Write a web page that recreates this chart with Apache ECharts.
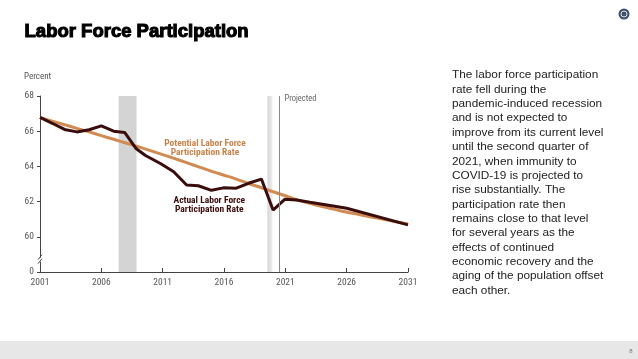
<!DOCTYPE html>
<html>
<head>
<meta charset="utf-8">
<script src="https://cdn.jsdelivr.net/npm/echarts@6/dist/echarts.min.js"></script>
<style>
html,body{margin:0;padding:0;background:#fff;}
#c{width:638px;height:359px;}
</style>
</head>
<body>
<div id="c"></div>
<script>
// ---- data ----
const xTicks = [2001, 2006, 2011, 2016, 2021, 2026, 2031];
const yTicks = [58, 60, 62, 64, 66, 68]; // 58 shown as "0" (broken axis)
const actualYears = [2001, 2002, 2003, 2004, 2005, 2006, 2007, 2007.9, 2008.85, 2009.6, 2010.85, 2011.9, 2012.95, 2013.9, 2014.98, 2015.95, 2017.0, 2018.0, 2019.05, 2020.0, 2020.95, 2021.9, 2023.0, 2024.9, 2026.0, 2031];
const actualRate = [66.78, 66.45, 66.1, 65.96, 66.08, 66.3, 66.0, 65.93, 65.0, 64.62, 64.15, 63.7, 62.94, 62.9, 62.64, 62.78, 62.76, 63.04, 63.28, 61.52, 62.13, 62.09, 61.96, 61.75, 61.62, 60.68];
const potentialYears = [2001,2002,2003,2004,2005,2006,2007,2008,2009,2010,2011,2012,2013,2014,2015,2016,2017,2018,2019,2020,2021,2022,2023,2024,2025,2026,2027,2028,2029,2030,2031];
const potentialRate = [66.78,66.57,66.37,66.16,65.96,65.75,65.54,65.33,65.12,64.9,64.67,64.44,64.2,63.96,63.72,63.5,63.28,63.03,62.8,62.56,62.33,62.1,61.9,61.72,61.56,61.4,61.27,61.13,61.0,60.86,60.73];
const recessions = [[2007.41, 2008.87], [2019.54, 2019.95]];
const projectedStart = 2020.52;
const titleText = 'Labor Force Participation';
const bodyText = 'The labor force participation\nrate fell during the\npandemic-induced recession\nand is not expected to\nimprove from its current level\nuntil the second quarter of\n2021, when immunity to\nCOVID-19 is projected to\nrise substantially. The\nparticipation rate then\nremains close to that level\nfor several years as the\neffects of continued\neconomic recovery and the\naging of the population offset\neach other.';

const narrow = '"Liberation Sans Narrow", "Roboto Condensed", "Arial Narrow", Roboto, sans-serif';
const chart = echarts.init(document.getElementById('c'), null, {renderer: 'canvas'});

const actualData = actualYears.map((y, i) => [y, actualRate[i]]);
const potentialData = potentialYears.map((y, i) => [y, potentialRate[i]]);

chart.setOption({
  animation: false,
  backgroundColor: '#ffffff',
  grid: {left: 40, right: 230, top: 96, bottom: 87, containLabel: false},
  xAxis: {
    type: 'value', min: 2001, max: 2031, interval: 5,
    axisLine: {show: true, lineStyle: {color: '#444', width: 1}},
    axisTick: {show: true, inside: true, length: 4, lineStyle: {color: '#444'}},
    axisLabel: {color: '#555', fontSize: 9.5, fontFamily: narrow, margin: 6, formatter: v => String(v)},
    splitLine: {show: false}
  },
  yAxis: {
    type: 'value', min: 58, max: 68, interval: 2,
    axisLine: {show: true, lineStyle: {color: '#444', width: 1}},
    axisTick: {show: true, length: 3, lineStyle: {color: '#444'}},
    axisLabel: {color: '#555', fontSize: 9.5, fontFamily: narrow, margin: 6, formatter: v => v === 58 ? '0' : String(v)},
    splitLine: {show: false},
    name: 'Percent', nameLocation: 'end', nameGap: 15,
    nameTextStyle: {color: '#555', fontSize: 9, fontFamily: narrow, align: 'left', padding: [0,0,0,-16]}
  },
  series: [
    {
      type: 'line', name: 'Potential', data: potentialData, showSymbol: false, smooth: 0.3,
      lineStyle: {color: '#d08a52', width: 3}, z: 3,
      markArea: {
        silent: true,
        itemStyle: {color: '#d4d4d4'},
        data: [
          [{xAxis: recessions[0][0]}, {xAxis: recessions[0][1]}],
          [{xAxis: recessions[1][0], itemStyle: {color: {type: 'linear', x: 0, y: 0, x2: 1, y2: 0, colorStops: [{offset: 0, color: '#d6d6d6'}, {offset: 1, color: '#eeeeee'}]}}}, {xAxis: recessions[1][1]}]
        ]
      },
      markLine: {
        silent: true, symbol: ['none', 'none'],
        lineStyle: {color: '#8a8a8a', width: 1, type: 'solid'},
        label: {show: false},
        data: [{xAxis: projectedStart}]
      }
    },
    {
      type: 'line', name: 'Actual', data: actualData, showSymbol: false,
      lineStyle: {color: '#3a0c0c', width: 3}, z: 4
    }
  ]
});

function px(p) { return chart.convertToPixel({gridIndex: 0}, p); }
const potLbl = px([2014.45, 65.05]);
const actLbl = px([2014.8, 61.8]);
const projLbl = px([projectedStart, 68]);
const brk = px([2001, 58.7]);

chart.setOption({
  graphic: [
    {type: 'text', left: 24, top: 22, style: {text: titleText, font: '900 18.5px "Liberation Sans", Arial, sans-serif', fill: '#000', stroke: '#000', lineWidth: 1.1}},
    {type: 'text', x: 452, y: 68, style: {text: bodyText, font: '11.8px "Liberation Sans", Arial, sans-serif', fill: '#222', lineHeight: 14.35}},
    {type: 'text', x: potLbl[0], y: potLbl[1], style: {text: 'Potential Labor Force\nParticipation Rate', font: 'bold 9.5px ' + narrow, fill: '#c8834a', align: 'center', verticalAlign: 'middle', lineHeight: 9.5}},
    {type: 'text', x: actLbl[0], y: actLbl[1], style: {text: 'Actual Labor Force\nParticipation Rate', font: 'bold 9.5px ' + narrow, fill: '#3a0c0c', align: 'center', verticalAlign: 'middle', lineHeight: 9.5}},
    {type: 'text', x: projLbl[0] + 5, y: projLbl[1] + 3, style: {text: 'Projected', font: '8.5px ' + narrow, fill: '#666', verticalAlign: 'middle'}},
    // axis break marker
    {type: 'rect', shape: {x: brk[0] - 1.5, y: brk[1] - 2, width: 3, height: 4}, style: {fill: '#fff'}, z: 10},
    {type: 'line', shape: {x1: brk[0] - 2, y1: brk[1], x2: brk[0] + 2, y2: brk[1] - 5}, style: {stroke: '#444', lineWidth: 1}, z: 11},
    {type: 'line', shape: {x1: brk[0] - 2, y1: brk[1] + 4, x2: brk[0] + 2, y2: brk[1] - 1}, style: {stroke: '#444', lineWidth: 1}, z: 11},
    // logo
    {type: 'circle', shape: {cx: 624, cy: 14, r: 5.5}, style: {fill: '#3f5169'}},
    {type: 'circle', shape: {cx: 624, cy: 14, r: 3}, style: {fill: 'none', stroke: '#dfe5ec', lineWidth: 1}},
    {type: 'circle', shape: {cx: 624, cy: 14, r: 1.2}, style: {fill: '#3f5169'}},
    // footer band
    {type: 'rect', shape: {x: 0, y: 341, width: 638, height: 18}, style: {fill: '#e7e7e7'}},
    {type: 'text', x: 631, y: 351, style: {text: '8', font: '6px sans-serif', fill: '#777', align: 'center', verticalAlign: 'middle'}}
  ]
});
</script>
</body>
</html>
